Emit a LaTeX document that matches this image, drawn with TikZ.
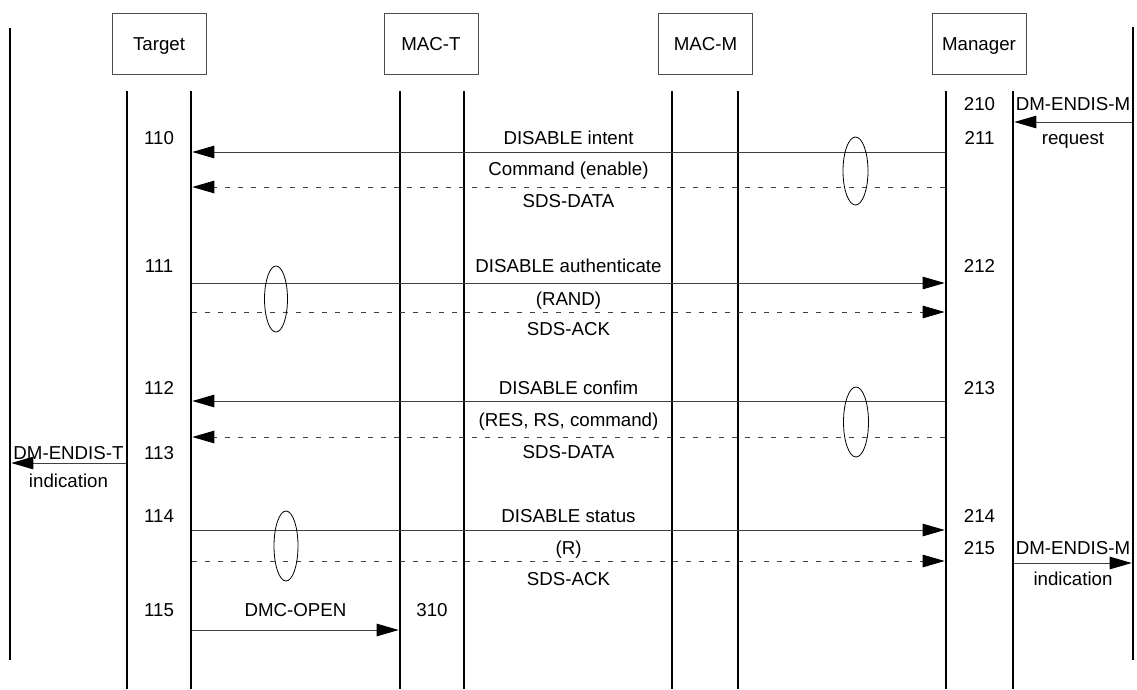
\documentclass[tikz,border=0pt]{standalone}
\usepackage{fontspec}
\setmainfont{Liberation Sans}
\usetikzlibrary{arrows.meta}
\begin{document}
\begin{tikzpicture}[x=1pt,y=-1pt,
  lab/.style={font=\fontsize{18.7}{22}\selectfont, inner sep=0pt, text height=13.4pt, text depth=0pt},
  hdr/.style={lab, draw=black!70, line width=0.8pt, minimum width=94pt, minimum height=61pt},
  life/.style={line width=2.6pt},
  edge/.style={line width=2pt},
  msg/.style={draw=black!75, line width=1pt, shorten >=1.3pt, shorten <=1.3pt, -{Triangle[length=22pt,width=12.5pt,black]}},
  dmsg/.style={msg, dash pattern=on 5pt off 8pt},
  oval/.style={draw, line width=0.8pt}]
\useasboundingbox (0,0) rectangle (1137,689);

% headers
\node[hdr] (target)  at (159,43.5)   {Target};
\node[hdr] (mact)    at (431,43.5)   {MAC-T};
\node[hdr] (macm)    at (705.5,43.5) {MAC-M};
\node[hdr] (manager) at (979,43.5)   {Manager};

% lifelines
\foreach \n/\x in {tl/127, tr/191, ml/400, mr/464, nl/672, nr/738, gl/946, gr/1013} {
  \coordinate (\n) at (\x,91);
  \draw[life] (\n) -- (\n |- 0,689);
}
\coordinate (ll) at (10,28);
\coordinate (rr) at (1133,27);
\draw[edge] (ll) -- (ll |- 0,660);
\draw[edge] (rr) -- (rr |- 0,660);

% messages
\draw[msg]  (rr |- 0,122) -- (gr |- 0,122);
\draw[msg]  (gl |- 0,152) -- (tr |- 0,152);
\draw[dmsg] (gl |- 0,187) -- (tr |- 0,187);
\draw[msg]  (tr |- 0,283) -- (gl |- 0,283);
\draw[dmsg] (tr |- 0,312) -- (gl |- 0,312);
\draw[msg]  (gl |- 0,401) -- (tr |- 0,401);
\draw[dmsg] (gl |- 0,437) -- (tr |- 0,437);
\draw[msg]  (tl |- 0,463) -- (ll |- 0,463);
\draw[msg]  (tr |- 0,530) -- (gl |- 0,530);
\draw[dmsg] (tr |- 0,561) -- (gl |- 0,561);
\draw[msg]  (gr |- 0,563) -- (rr |- 0,563);
\draw[msg]  (tr |- 0,630) -- (ml |- 0,630);

% ellipses
\draw[oval] (855.5,171) ellipse [x radius=12.5pt, y radius=34pt];
\draw[oval] (276,299) ellipse [x radius=11.5pt, y radius=33pt];
\draw[oval] (856,422) ellipse [x radius=12.5pt, y radius=35pt];
\draw[oval] (286,546) ellipse [x radius=12pt, y radius=35pt];

% numbers
\node[lab] (n110) at (159,138) {110};
\node[lab] (n111) at (159,266) {111};
\node[lab] (n112) at (159,388) {112};
\node[lab] (n113) at (159,453) {113};
\node[lab] (n114) at (159,516) {114};
\node[lab] (n115) at (159,610) {115};
\node[lab] (n210) at (979.5,104) {210};
\node[lab] (n211) at (979.5,138) {211};
\node[lab] (n212) at (979.5,266) {212};
\node[lab] (n213) at (979.5,388) {213};
\node[lab] (n214) at (979.5,516) {214};
\node[lab] (n215) at (979.5,548) {215};
\node[lab] (n310) at (432,610) {310};

% message labels
\node[lab] (t1a) at (568.5,138) {DISABLE intent};
\node[lab] (t1b) at (568.5,169) {Command (enable)};
\node[lab] (t1c) at (568.5,201) {SDS-DATA};
\node[lab] (t2a) at (568.5,266) {DISABLE authenticate};
\node[lab] (t2b) at (568.5,299) {(RAND)};
\node[lab] (t2c) at (568.5,329) {SDS-ACK};
\node[lab] (t3a) at (568.5,388) {DISABLE confim};
\node[lab] (t3b) at (568.5,420) {(RES, RS, command)};
\node[lab] (t3c) at (568.5,452) {SDS-DATA};
\node[lab] (t4a) at (568.5,516) {DISABLE status};
\node[lab] (t4b) at (568.5,548) {(R)};
\node[lab] (t4c) at (568.5,579) {SDS-ACK};
\node[lab] (t5a) at (295.5,610) {DMC-OPEN};

\node[lab] (dmr) at (1073,104) {DM-ENDIS-M};
\node[lab] (req) at (1073,138) {request};
\node[lab] (dmt) at (68.5,453) {DM-ENDIS-T};
\node[lab] (indt) at (68.5,481) {indication};
\node[lab] (dmi) at (1073,548) {DM-ENDIS-M};
\node[lab] (indm) at (1073,579) {indication};
\end{tikzpicture}
\end{document}
